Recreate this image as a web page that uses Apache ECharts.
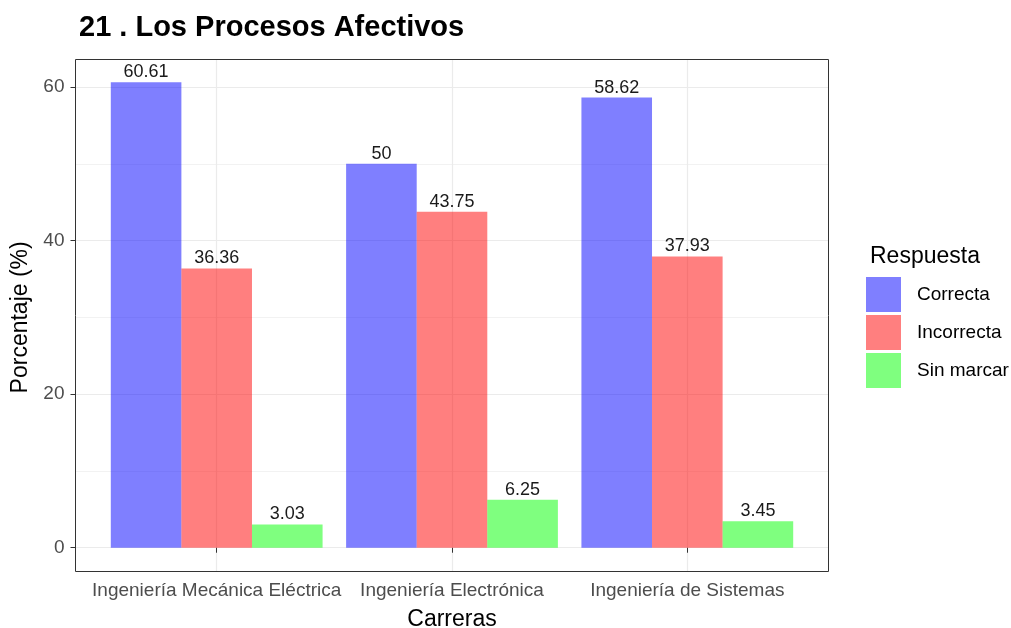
<!DOCTYPE html>
<html>
<head>
<meta charset="utf-8">
<script src="https://cdn.jsdelivr.net/npm/echarts@6/dist/echarts.min.js"></script>
<style>
html,body{margin:0;padding:0;background:#fff;}
#chart{width:1011px;height:628px;}
</style>
</head>
<body>
<div id="chart"></div>
<script>
const titleText = '21 . Los Procesos Afectivos';
const categories = ['Ingeniería Mecánica Eléctrica', 'Ingeniería Electrónica', 'Ingeniería de Sistemas'];
const seriesNames = ['Correcta', 'Incorrecta', 'Sin marcar'];
const correcta = [60.61, 50, 58.62];
const incorrecta = [36.36, 43.75, 37.93];
const sinMarcar = [3.03, 6.25, 3.45];
const yTickMin = 0, yTickMax = 60, yTickStep = 20;
const yRange = [-3.0305, 63.6405];
const colors = ['rgba(0,0,255,0.5)', 'rgba(255,0,0,0.5)', 'rgba(0,255,0,0.5)'];

const FONT = '"Liberation Sans", Arial, sans-serif';
const chart = echarts.init(document.getElementById('chart'), null, {renderer: 'canvas'});

const P = {left: 75.5, top: 59, width: 753, height: 512};
const unit = P.width / 3.2;
const y0px = P.top + P.height * (yRange[1] - 0) / (yRange[1] - yRange[0]);
const y60px = P.top + P.height * (yRange[1] - 60) / (yRange[1] - yRange[0]);

function barSeries(name, data, color) {
  return {
    name: name, type: 'bar', xAxisIndex: 1, yAxisIndex: 1,
    data: data, barGap: '0%', barCategoryGap: '10%',
    itemStyle: {color: color},
    label: {show: true, position: 'top', distance: 1, color: '#1a1a1a', fontSize: 18, fontFamily: FONT},
    emphasis: {disabled: true}
  };
}

chart.setOption({
  animation: false,
  backgroundColor: '#fff',
  title: [
    {text: titleText, left: 74, top: 8, textStyle: {fontSize: 29, fontWeight: 'bold', color: '#000', fontFamily: FONT}},
    {text: 'Respuesta', left: 865, top: 240, textStyle: {fontSize: 23, fontWeight: 'normal', color: '#000', fontFamily: FONT}}
  ],
  legend: {
    orient: 'vertical', left: 861, top: 272, itemWidth: 35, itemHeight: 35, itemGap: 3,
    icon: 'rect', selectedMode: false,
    data: seriesNames,
    textStyle: {fontSize: 19, color: '#000', fontFamily: FONT, padding: [0, 0, 0, 11]}
  },
  grid: [
    {left: P.left, width: P.width, top: y60px, height: y0px - y60px, outerBoundsMode: 'none', containLabel: false},
    {left: P.left + 0.1 * unit, width: 3 * unit, top: P.top, height: P.height, outerBoundsMode: 'none', containLabel: false},
    {left: P.left + 0.6 * unit, width: 2 * unit, top: P.top, height: P.height, outerBoundsMode: 'none', containLabel: false}
  ],
  xAxis: [
    {gridIndex: 0, type: 'value', show: false, min: 0, max: 1},
    {gridIndex: 1, type: 'category', data: categories,
     axisLine: {show: false},
     axisTick: {show: true, alignWithLabel: true, length: 5, lineStyle: {color: '#333', width: 1}},
     axisLabel: {fontSize: 19, color: '#4d4d4d', margin: 10, interval: 0, hideOverlap: false, fontFamily: FONT},
     splitLine: {show: false},
     name: 'Carreras', nameLocation: 'middle', nameGap: 37,
     nameTextStyle: {fontSize: 23, color: '#000', fontFamily: FONT}},
    {gridIndex: 2, type: 'value', min: 1, max: 3, interval: 1,
     axisLine: {show: false}, axisTick: {show: false}, axisLabel: {show: false},
     splitLine: {show: true, lineStyle: {color: '#ebebeb', width: 1.2}}}
  ],
  yAxis: [
    {gridIndex: 0, type: 'value', min: yTickMin, max: yTickMax, interval: yTickStep,
     axisLine: {show: false},
     axisTick: {show: true, length: 5, lineStyle: {color: '#333', width: 1}},
     axisLabel: {fontSize: 19, color: '#4d4d4d', margin: 11, fontFamily: FONT},
     splitLine: {show: true, lineStyle: {color: '#ebebeb', width: 1.2}},
     minorTick: {show: false, splitNumber: 2},
     minorSplitLine: {show: true, lineStyle: {color: '#ececec', width: 0.7}},
     name: 'Porcentaje (%)', nameLocation: 'middle', nameGap: 36, nameRotate: 90,
     nameTextStyle: {fontSize: 23, color: '#000', fontFamily: FONT}},
    {gridIndex: 1, type: 'value', min: yRange[0], max: yRange[1], show: false},
    {gridIndex: 2, type: 'value', min: 0, max: 1, show: false}
  ],
  series: [
    barSeries(seriesNames[0], correcta, colors[0]),
    barSeries(seriesNames[1], incorrecta, colors[1]),
    barSeries(seriesNames[2], sinMarcar, colors[2])
  ],
  graphic: [
    {type: 'rect', z: 100, silent: true,
     shape: {x: P.left, y: P.top + 0.5, width: P.width, height: P.height},
     style: {fill: null, stroke: '#333', lineWidth: 1}}
  ]
});
</script>
</body>
</html>
